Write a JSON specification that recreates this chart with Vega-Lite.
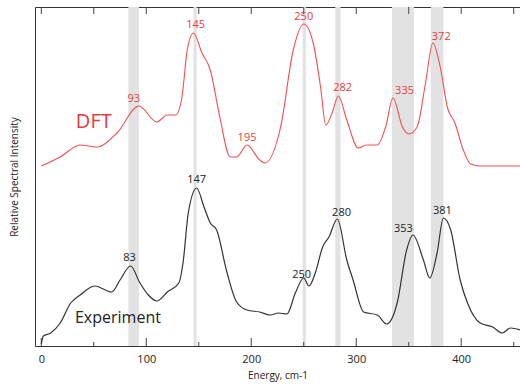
{
  "$schema": "https://vega.github.io/schema/vega-lite/v6.json",
  "width": 485,
  "height": 339,
  "autosize": {"type": "none"},
  "padding": {"left": 35, "top": 7, "right": 0, "bottom": 39},
  "config": {
    "view": {"stroke": "#333"},
    "axis": {"domain": false, "grid": false, "labelFont": "Open Sans", "titleFont": "Open Sans", "labelColor": "#222", "titleColor": "#222", "titleFontWeight": "normal"}
  },
  "datasets": {
    "curves": [
      {"s":"DFT","x":0,"y":180},{"s":"DFT","x":18,"y":189},{"s":"DFT","x":37,"y":201},{"s":"DFT","x":53,"y":199},{"s":"DFT","x":72,"y":213},{"s":"DFT","x":93,"y":240},{"s":"DFT","x":110,"y":224},{"s":"DFT","x":120,"y":231},{"s":"DFT","x":128,"y":231},{"s":"DFT","x":134,"y":249},{"s":"DFT","x":139,"y":296},{"s":"DFT","x":145,"y":313},{"s":"DFT","x":153,"y":293},{"s":"DFT","x":161,"y":276},{"s":"DFT","x":170,"y":229},{"s":"DFT","x":180,"y":189},{"s":"DFT","x":186,"y":189},{"s":"DFT","x":196,"y":201},{"s":"DFT","x":208,"y":186},{"s":"DFT","x":213,"y":183},{"s":"DFT","x":228,"y":219},{"s":"DFT","x":240,"y":296},{"s":"DFT","x":250,"y":322},{"s":"DFT","x":259,"y":303},{"s":"DFT","x":266,"y":259},{"s":"DFT","x":271,"y":221},{"s":"DFT","x":277,"y":233},{"s":"DFT","x":283,"y":250},{"s":"DFT","x":291,"y":226},{"s":"DFT","x":302,"y":198},{"s":"DFT","x":310,"y":201},{"s":"DFT","x":320,"y":201},{"s":"DFT","x":328,"y":219},{"s":"DFT","x":335,"y":248},{"s":"DFT","x":344,"y":219},{"s":"DFT","x":350,"y":212},{"s":"DFT","x":358,"y":219},{"s":"DFT","x":366,"y":263},{"s":"DFT","x":373,"y":303},{"s":"DFT","x":380,"y":279},{"s":"DFT","x":387,"y":238},{"s":"DFT","x":394,"y":223},{"s":"DFT","x":402,"y":196},{"s":"DFT","x":409,"y":182},{"s":"DFT","x":418,"y":180},{"s":"DFT","x":456,"y":180},
      {"s":"Exp","x":0,"y":2},{"s":"Exp","x":2,"y":10},{"s":"Exp","x":9,"y":13},{"s":"Exp","x":18,"y":23},{"s":"Exp","x":28,"y":43},{"s":"Exp","x":37,"y":51},{"s":"Exp","x":51,"y":60},{"s":"Exp","x":67,"y":54},{"s":"Exp","x":75,"y":66},{"s":"Exp","x":85,"y":80},{"s":"Exp","x":94,"y":63},{"s":"Exp","x":102,"y":51},{"s":"Exp","x":110,"y":45},{"s":"Exp","x":120,"y":54},{"s":"Exp","x":131,"y":63},{"s":"Exp","x":135,"y":83},{"s":"Exp","x":140,"y":133},{"s":"Exp","x":148,"y":158},{"s":"Exp","x":155,"y":139},{"s":"Exp","x":161,"y":123},{"s":"Exp","x":167,"y":116},{"s":"Exp","x":177,"y":73},{"s":"Exp","x":186,"y":44},{"s":"Exp","x":196,"y":36},{"s":"Exp","x":208,"y":34},{"s":"Exp","x":218,"y":31},{"s":"Exp","x":226,"y":33},{"s":"Exp","x":234,"y":32},{"s":"Exp","x":242,"y":53},{"s":"Exp","x":250,"y":68},{"s":"Exp","x":255,"y":60},{"s":"Exp","x":261,"y":73},{"s":"Exp","x":268,"y":99},{"s":"Exp","x":274,"y":109},{"s":"Exp","x":282,"y":127},{"s":"Exp","x":291,"y":86},{"s":"Exp","x":297,"y":66},{"s":"Exp","x":307,"y":34},{"s":"Exp","x":320,"y":31},{"s":"Exp","x":329,"y":22},{"s":"Exp","x":339,"y":43},{"s":"Exp","x":348,"y":96},{"s":"Exp","x":354,"y":111},{"s":"Exp","x":364,"y":86},{"s":"Exp","x":370,"y":68},{"s":"Exp","x":377,"y":93},{"s":"Exp","x":383,"y":128},{"s":"Exp","x":390,"y":116},{"s":"Exp","x":399,"y":66},{"s":"Exp","x":406,"y":43},{"s":"Exp","x":418,"y":23},{"s":"Exp","x":430,"y":19},{"s":"Exp","x":439,"y":13},{"s":"Exp","x":447,"y":18},{"s":"Exp","x":456,"y":16}
    ],
    "bands": [
      {"x":83,"x2":93},{"x":145,"x2":148},{"x":249,"x2":252},{"x":280,"x2":285},{"x":334,"x2":355},{"x":371,"x2":383}
    ],
    "tickpos": [
      {"x":0,"k":"major"},{"x":50,"k":"minor"},{"x":100,"k":"major"},{"x":150,"k":"minor"},{"x":200,"k":"major"},{"x":250,"k":"minor"},{"x":300,"k":"major"},{"x":350,"k":"minor"},{"x":400,"k":"major"},{"x":450,"k":"minor"}
    ],
    "labels": [
      {"s":"DFT","x":88,"y":247,"t":"93","sz":11},{"s":"DFT","x":147,"y":321,"t":"145","sz":11},{"s":"DFT","x":196,"y":208,"t":"195","sz":11},{"s":"DFT","x":250,"y":329,"t":"250","sz":11},{"s":"DFT","x":287,"y":258,"t":"282","sz":11},{"s":"DFT","x":346,"y":255,"t":"335","sz":11},{"s":"DFT","x":381,"y":309,"t":"372","sz":11},{"s":"DFT","x":50,"y":224,"t":"DFT","sz":20},
      {"s":"Exp","x":148,"y":166,"t":"147","sz":11},{"s":"Exp","x":84,"y":88,"t":"83","sz":11},{"s":"Exp","x":248,"y":71,"t":"250","sz":11},{"s":"Exp","x":286,"y":133,"t":"280","sz":11},{"s":"Exp","x":345,"y":117,"t":"353","sz":11},{"s":"Exp","x":382,"y":135,"t":"381","sz":11},{"s":"Exp","x":73,"y":28,"t":"Experiment","sz":16}
    ]
  },
  "layer": [
    {
      "data": {"name": "bands"},
      "mark": {"type": "rect", "color": "#e2e2e2"},
      "encoding": {
        "x": {"field": "x", "type": "quantitative", "scale": {"domain": [-6, 456], "nice": false, "zero": false},
          "axis": {"orient": "bottom", "values": [0,100,200,300,400], "tickSize": 0, "labelPadding": 7, "labelFontSize": 11, "title": "Energy, cm-1", "titleFontSize": 10, "titlePadding": 6}},
        "x2": {"field": "x2"}
      }
    },
    {
      "data": {"name": "tickpos"},
      "transform": [{"filter": "datum.k === 'major'"}],
      "mark": {"type": "rule", "color": "#444", "strokeWidth": 1},
      "encoding": {
        "x": {"field": "x", "type": "quantitative"},
        "y": {"datum": 0, "type": "quantitative"},
        "y2": {"datum": 8}
      }
    },
    {
      "data": {"name": "tickpos"},
      "transform": [{"filter": "datum.k === 'minor'"}],
      "mark": {"type": "rule", "color": "#444", "strokeWidth": 1},
      "encoding": {
        "x": {"field": "x", "type": "quantitative"},
        "y": {"datum": 0, "type": "quantitative"},
        "y2": {"datum": 4}
      }
    },
    {
      "data": {"name": "tickpos"},
      "mark": {"type": "rule", "color": "#444", "strokeWidth": 1},
      "encoding": {
        "x": {"field": "x", "type": "quantitative"},
        "y": {"datum": 339, "type": "quantitative"},
        "y2": {"datum": 332}
      }
    },
    {
      "data": {"name": "curves"},
      "transform": [{"filter": "datum.s === 'DFT'"}],
      "mark": {"type": "line", "interpolate": "monotone", "strokeWidth": 1.1, "color": "#f05050"},
      "encoding": {
        "x": {"field": "x", "type": "quantitative"},
        "y": {"field": "y", "type": "quantitative", "scale": {"domain": [0, 339], "nice": false, "zero": false},
          "axis": {"tickSize": 0, "labels": false, "title": "Relative Spectral Intensity", "titleFontSize": 10, "titlePadding": 15}}
      }
    },
    {
      "data": {"name": "curves"},
      "transform": [{"filter": "datum.s === 'Exp'"}],
      "mark": {"type": "line", "interpolate": "monotone", "strokeWidth": 1.2, "color": "#333333"},
      "encoding": {
        "x": {"field": "x", "type": "quantitative"},
        "y": {"field": "y", "type": "quantitative"}
      }
    },
    {
      "data": {"name": "labels"},
      "mark": {"type": "text", "font": "Open Sans"},
      "encoding": {
        "x": {"field": "x", "type": "quantitative"},
        "y": {"field": "y", "type": "quantitative"},
        "text": {"field": "t"},
        "size": {"field": "sz", "type": "quantitative", "scale": null},
        "color": {"field": "s", "type": "nominal", "scale": {"domain": ["DFT", "Exp"], "range": ["#e83a3a", "#222222"]}, "legend": null}
      }
    }
  ]
}
